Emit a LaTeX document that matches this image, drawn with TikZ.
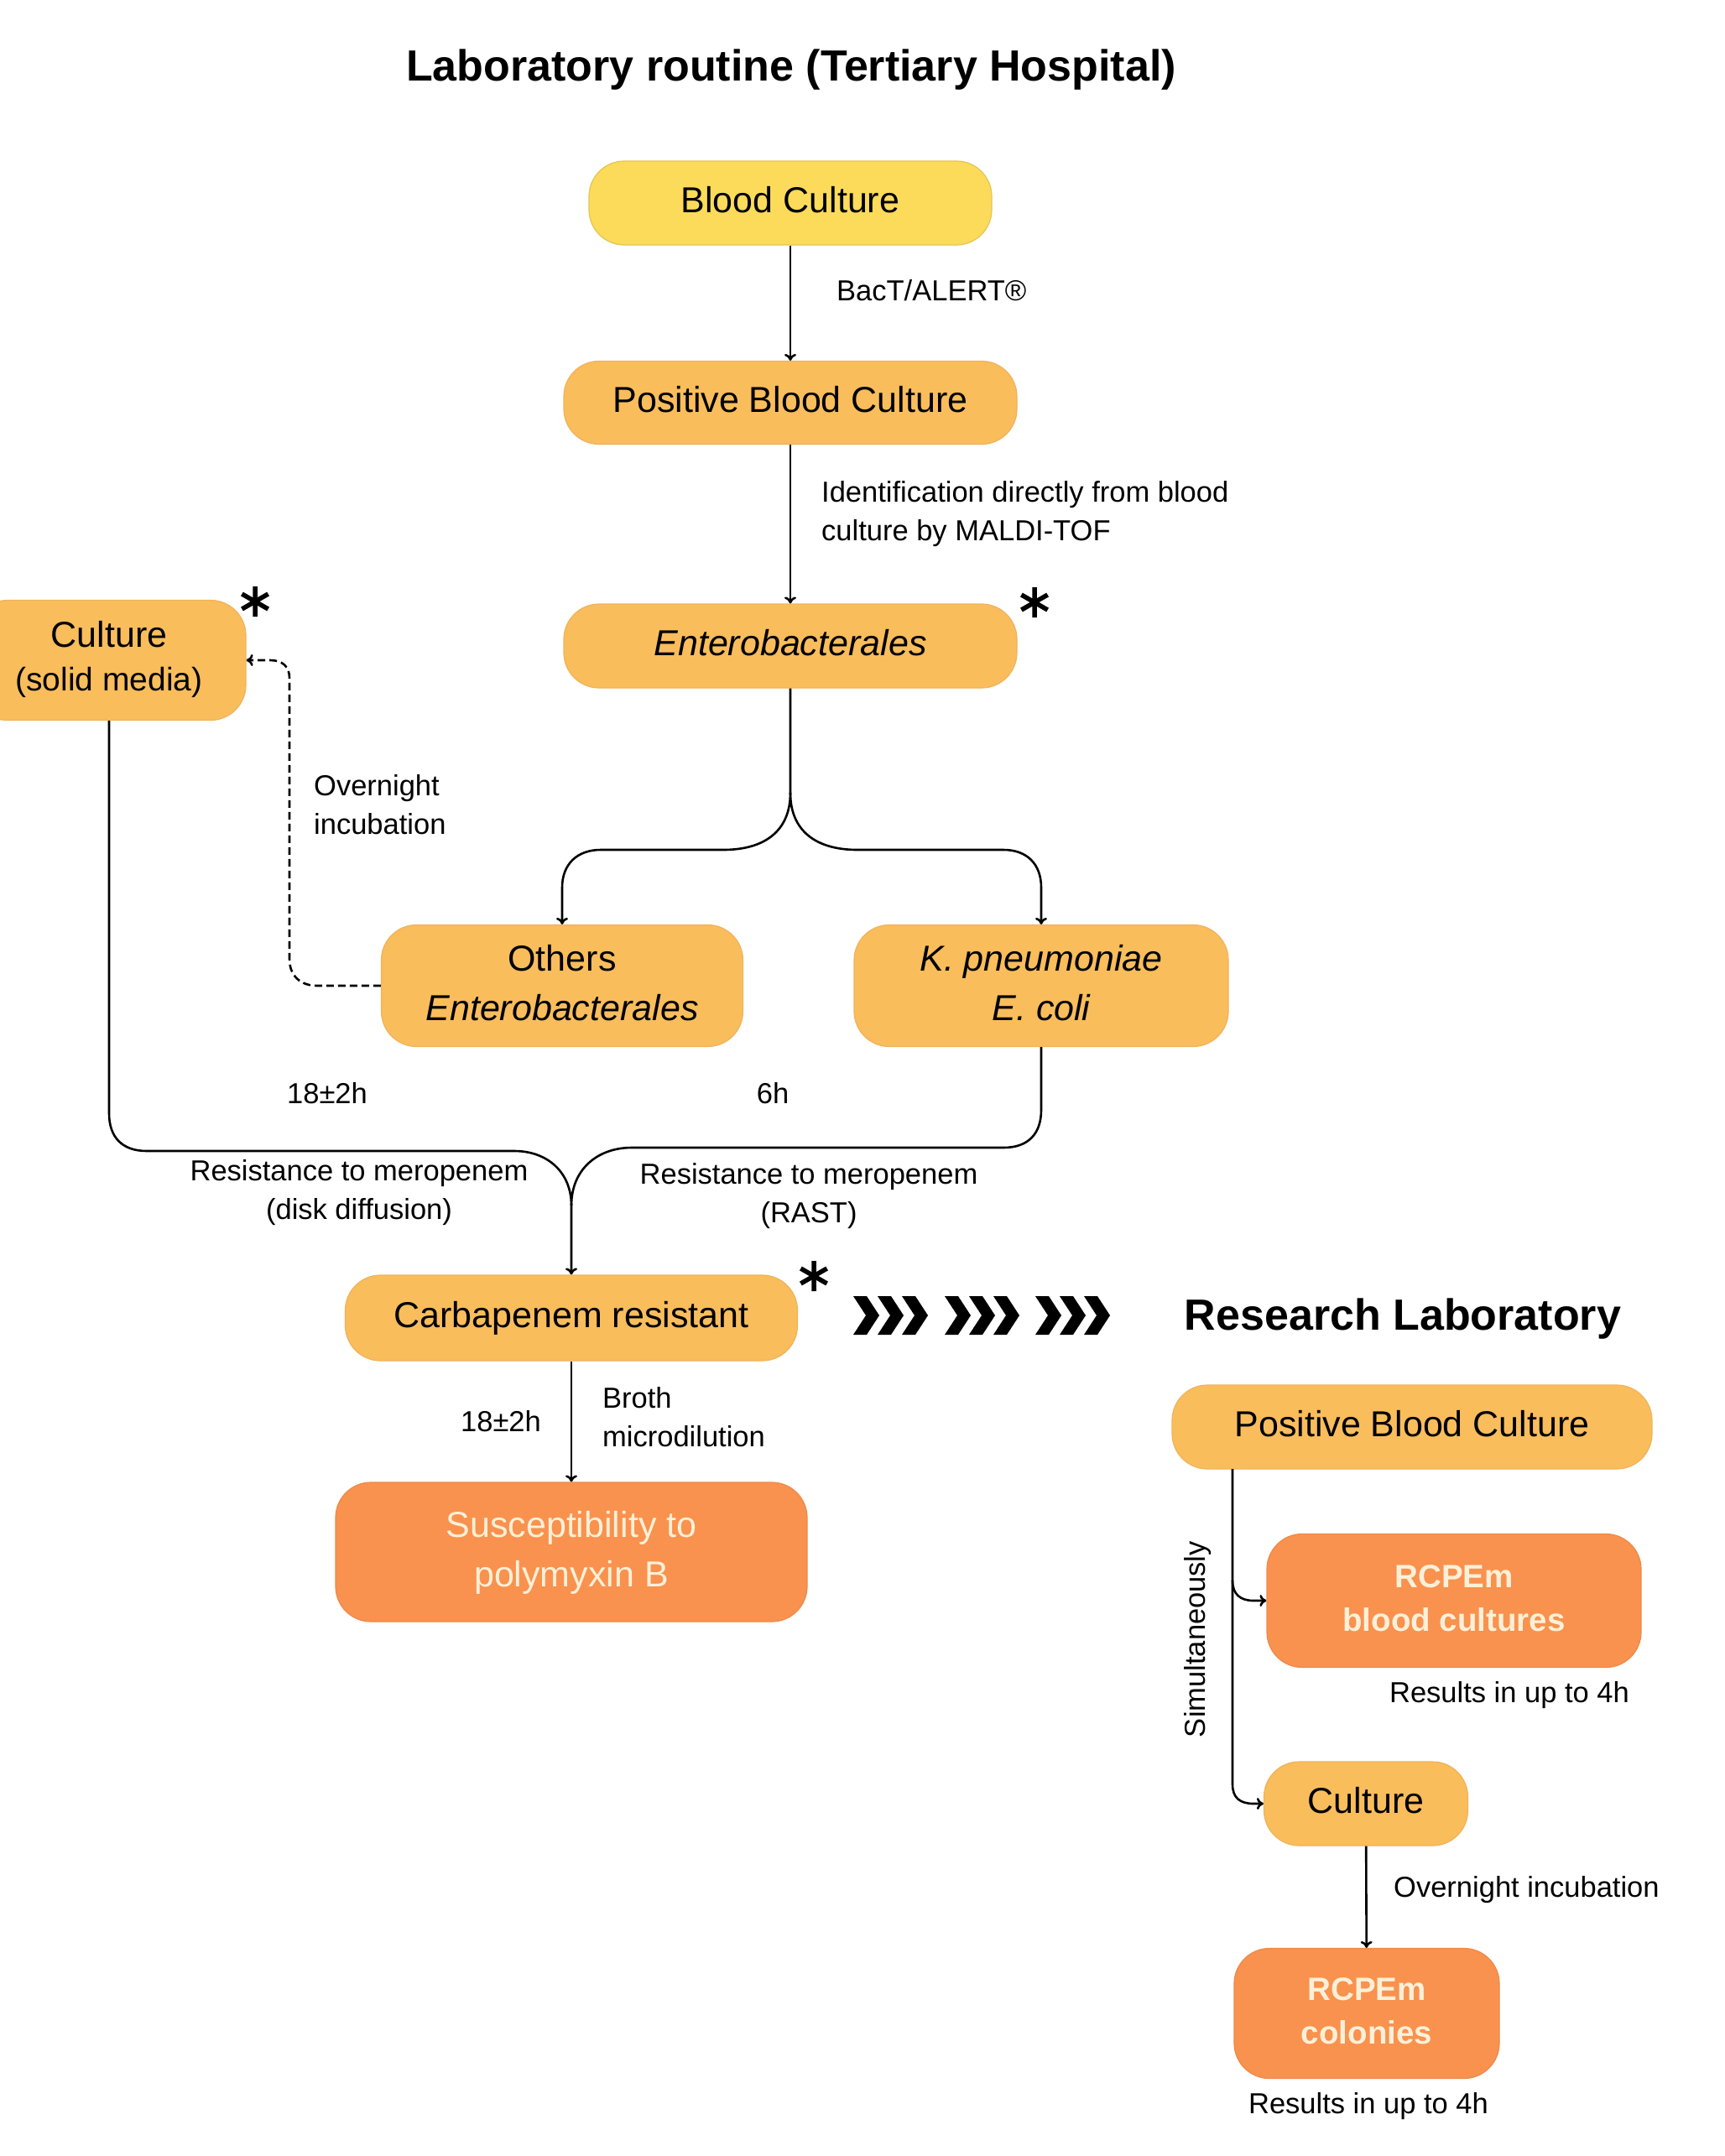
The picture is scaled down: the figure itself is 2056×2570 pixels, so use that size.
\documentclass[tikz,border=0pt]{standalone}
\usepackage{fontspec}
\setmainfont{Liberation Sans}
\usetikzlibrary{arrows.meta}
\definecolor{yel}{HTML}{FCDB5B}
\definecolor{lor}{HTML}{F9BD5C}
\definecolor{dor}{HTML}{F9924E}
\definecolor{lorb}{HTML}{F0B35A}
\definecolor{dorb}{HTML}{EE8A4A}
\definecolor{cream}{HTML}{FDF0D8}
\newcommand\tb[1]{\begin{tabular}{@{}c@{}}#1\end{tabular}}
\tikzset{
  box/.style={rounded corners=42pt, draw=lorb, line width=1.2pt, fill=lor, inner sep=0pt,
    font=\fontsize{43}{59}\selectfont},
  ybox/.style={box, fill=yel, draw=yel!90!black},
  dbox/.style={box, fill=dor, draw=dorb, text=cream},
  rbox/.style={dbox, font=\fontsize{38.5}{52}\selectfont\bfseries},
  lbl/.style={inner sep=0pt, font=\fontsize{34.5}{46}\selectfont},
  ttl/.style={inner sep=0pt, font=\fontsize{52}{60}\selectfont\bfseries},
  ln/.style={line width=2.6pt, black},
  arr/.style={ln, -{To[length=8pt,width=14pt]}},
  dsh/.style={arr, dash pattern=on 9pt off 5pt},
  ast/.pic={\draw[line width=5.5pt] (0,-18)--(0,18) (-15.6,-9)--(15.6,9) (-15.6,9)--(15.6,-9);},
  chev/.pic={\fill (0,-23)--(16,-23)--(31,0)--(16,23)--(0,23)--(15,0)--cycle;}
}
\begin{document}
\begin{tikzpicture}[x=1pt,y=-1pt]
\useasboundingbox (0,0) rectangle (2056,2570);
\fill[white] (0,0) rectangle (2056,2570);

% titles
\node[ttl] (t1) at (943,83) {Laboratory routine (Tertiary Hospital)};
\node[ttl] (t2) at (1672,1572) {Research Laboratory};

% left flow nodes
\node[ybox, minimum width=480, minimum height=100] (bc) at (942,242) {\tb{Blood Culture}};
\node[box, minimum width=540, minimum height=99] (pbc) at (942,480) {\tb{Positive Blood Culture}};
\node[box, minimum width=540, minimum height=100] (ent) at (942,770) {\tb{\itshape Enterobacterales}};
\node[box, minimum width=326, minimum height=143, font=\fontsize{43}{52}\selectfont] (cult) at (130,787) {\tb{Culture\\\fontsize{39}{52}\selectfont(solid media)}};
\node[box, minimum width=431, minimum height=145] (oth) at (670,1175) {\tb{Others\\\itshape Enterobacterales}};
\node[box, minimum width=446, minimum height=145, font=\fontsize{43}{59}\selectfont\itshape] (kp) at (1241,1175) {\tb{K. pneumoniae\\E. coli}};
\node[box, minimum width=539, minimum height=102] (carb) at (681,1571) {\tb{Carbapenem resistant}};
\node[dbox, minimum width=562, minimum height=166] (sus) at (681,1850) {\tb{Susceptibility to\\polymyxin B}};

% research nodes
\node[box, minimum width=572, minimum height=100] (rpbc) at (1683,1701) {\tb{Positive Blood Culture}};
\node[rbox, minimum width=446, minimum height=159] (rcb) at (1733,1908) {\tb{RCPEm\\blood cultures}};
\node[box, minimum width=243, minimum height=100] (rcul) at (1628,2150) {\tb{Culture}};
\node[rbox, minimum width=316, minimum height=155] (rcol) at (1629,2400) {\tb{RCPEm\\colonies}};

% asterisks
\pic at (1233,718) {ast};
\pic at (304,717) {ast};
\pic at (970,1521) {ast};

% chevrons
\foreach \cx in {1017,1046,1075,1126,1155,1184,1234,1263,1292}
  \pic at (\cx,1568) {chev};

% labels
\node[lbl, anchor=west] (l1) at (997,346) {BacT/ALERT®};
\node[lbl, anchor=west, align=left] (l2) at (979,613) {Identification directly from blood\\culture by MALDI-TOF};
\node[lbl, anchor=west, align=left] (l3) at (374,959) {Overnight\\incubation};
\node[lbl] (l4) at (390,1303) {18±2h};
\node[lbl] (l5) at (921,1303) {6h};
\node[lbl, align=center] (l6) at (428,1422) {Resistance to meropenem\\(disk diffusion)};
\node[lbl, align=center] (l7) at (964,1426) {Resistance to meropenem\\(RAST)};
\node[lbl] (l8) at (597,1694) {18±2h};
\node[lbl, anchor=west, align=left] (l9) at (718,1689) {Broth\\microdilution};
\node[lbl, anchor=west] (l10) at (1661,2253) {Overnight incubation};
\node[lbl] (l11) at (1799,2021) {Results in up to 4h};
\node[lbl] (l12) at (1631,2511) {Results in up to 4h};
\node[lbl, rotate=90] (l13) at (1428,1954) {Simultaneously};

% connectors left
\draw[arr] (bc) -- (pbc);
\draw[arr] (pbc) -- (ent);
\draw[arr] (ent.south) -- (942,945) .. controls (942,990) and (912,1013) .. (862,1013)
  -- (716,1013) .. controls (688,1013) and (670,1030) .. (670,1058) -- (oth.north);
\draw[arr] (942,945) .. controls (942,990) and (972,1013) .. (1022,1013)
  -- (1196,1013) .. controls (1224,1013) and (1241,1030) .. (1241,1058) -- (kp.north);
\draw[dsh] (oth.west) -- (378,1175) .. controls (358,1175) and (345,1163) .. (345,1143)
  -- (345,808) .. controls (345,795) and (337,787) .. (322,787) -- (cult.east);
\draw[arr] (cult.south) -- (130,1327) .. controls (130,1355) and (145,1372) .. (175,1372)
  -- (613,1372) .. controls (652,1372) and (681,1397) .. (681,1437) -- (carb.north);
\draw[ln] (kp.south) -- (1241,1323) .. controls (1241,1351) and (1226,1368) .. (1196,1368)
  -- (753,1368) .. controls (712,1368) and (681,1394) .. (681,1437);
\draw[arr] (carb) -- (sus);

% connectors research
\coordinate (rs) at (1469,1751);
\draw[arr] (rs) -- (1469,2127) .. controls (1469,2143) and (1478,2150) .. (1494,2150) -- (rcul.west);
\draw[arr] (1469,1884) .. controls (1469,1900) and (1478,1908) .. (1494,1908) -- (rcb.west);
\draw[arr] (rcul) -- (rcol);
\end{tikzpicture}
\end{document}
